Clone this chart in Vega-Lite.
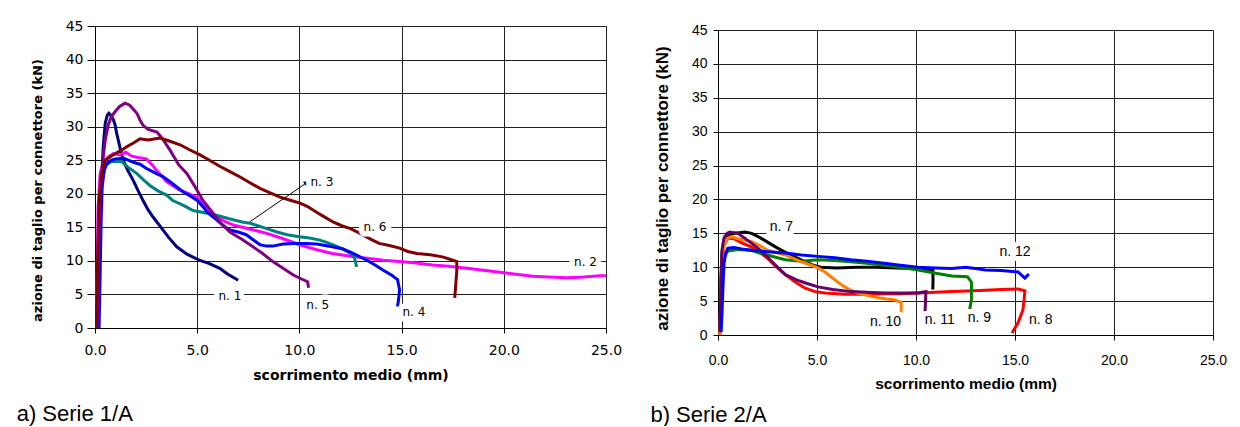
{
  "$schema": "https://vega.github.io/schema/vega-lite/v6.json",
  "padding": {"left": 16, "top": 19, "right": 5, "bottom": 0},
  "spacing": 28,
  "datasets": {
    "L": [
      {"s":"n. 1","k":1,"x":0.15,"y":0},{"s":"n. 1","k":2,"x":0.2,"y":7},{"s":"n. 1","k":3,"x":0.25,"y":15},{"s":"n. 1","k":4,"x":0.3,"y":20},{"s":"n. 1","k":5,"x":0.4,"y":27},{"s":"n. 1","k":6,"x":0.5,"y":30.5},{"s":"n. 1","k":7,"x":0.6,"y":31.7},{"s":"n. 1","k":8,"x":0.68,"y":32},{"s":"n. 1","k":9,"x":0.8,"y":31.6},{"s":"n. 1","k":10,"x":0.9,"y":31},{"s":"n. 1","k":11,"x":0.98,"y":30.3},{"s":"n. 1","k":12,"x":1.06,"y":29},{"s":"n. 1","k":13,"x":1.14,"y":28},{"s":"n. 1","k":14,"x":1.25,"y":26.5},{"s":"n. 1","k":15,"x":1.38,"y":25},{"s":"n. 1","k":16,"x":1.6,"y":23.5},{"s":"n. 1","k":17,"x":1.87,"y":22},{"s":"n. 1","k":18,"x":2.1,"y":20.5},{"s":"n. 1","k":19,"x":2.35,"y":19},{"s":"n. 1","k":20,"x":2.6,"y":17.6},{"s":"n. 1","k":21,"x":2.85,"y":16.5},{"s":"n. 1","k":22,"x":3.2,"y":15.1},{"s":"n. 1","k":23,"x":3.6,"y":13.5},{"s":"n. 1","k":24,"x":4.0,"y":12.1},{"s":"n. 1","k":25,"x":4.5,"y":11},{"s":"n. 1","k":26,"x":5.1,"y":10.1},{"s":"n. 1","k":27,"x":5.6,"y":9.6},{"s":"n. 1","k":28,"x":6.1,"y":8.9},{"s":"n. 1","k":29,"x":6.5,"y":8},{"s":"n. 1","k":30,"x":6.9,"y":7.3},{"s":"n. 1","k":31,"x":7.0,"y":7.1},
      {"s":"n. 2","k":1,"x":0.05,"y":0},{"s":"n. 2","k":2,"x":0.1,"y":8},{"s":"n. 2","k":3,"x":0.15,"y":18},{"s":"n. 2","k":4,"x":0.25,"y":23},{"s":"n. 2","k":5,"x":0.4,"y":24.8},{"s":"n. 2","k":6,"x":0.7,"y":25.6},{"s":"n. 2","k":7,"x":0.9,"y":26},{"s":"n. 2","k":8,"x":1.2,"y":25.8},{"s":"n. 2","k":9,"x":1.5,"y":26.2},{"s":"n. 2","k":10,"x":1.8,"y":25.6},{"s":"n. 2","k":11,"x":2.1,"y":25.4},{"s":"n. 2","k":12,"x":2.5,"y":25.2},{"s":"n. 2","k":13,"x":2.8,"y":24.3},{"s":"n. 2","k":14,"x":3.0,"y":23.5},{"s":"n. 2","k":15,"x":3.5,"y":21.8},{"s":"n. 2","k":16,"x":4.1,"y":20.6},{"s":"n. 2","k":17,"x":4.6,"y":20},{"s":"n. 2","k":18,"x":5.0,"y":19.4},{"s":"n. 2","k":19,"x":5.3,"y":18.5},{"s":"n. 2","k":20,"x":5.6,"y":17.3},{"s":"n. 2","k":21,"x":5.95,"y":16.6},{"s":"n. 2","k":22,"x":6.4,"y":15.8},{"s":"n. 2","k":23,"x":6.8,"y":15.3},{"s":"n. 2","k":24,"x":7.5,"y":14.8},{"s":"n. 2","k":25,"x":8.4,"y":14.1},{"s":"n. 2","k":26,"x":9.2,"y":13.3},{"s":"n. 2","k":27,"x":10.0,"y":12.4},{"s":"n. 2","k":28,"x":10.8,"y":11.7},{"s":"n. 2","k":29,"x":11.6,"y":11.1},{"s":"n. 2","k":30,"x":12.5,"y":10.7},{"s":"n. 2","k":31,"x":13.3,"y":10.4},{"s":"n. 2","k":32,"x":14.1,"y":10.1},{"s":"n. 2","k":33,"x":14.9,"y":9.9},{"s":"n. 2","k":34,"x":15.7,"y":9.7},{"s":"n. 2","k":35,"x":16.5,"y":9.4},{"s":"n. 2","k":36,"x":17.3,"y":9.2},{"s":"n. 2","k":37,"x":18.2,"y":8.9},{"s":"n. 2","k":38,"x":19.0,"y":8.6},{"s":"n. 2","k":39,"x":19.8,"y":8.3},{"s":"n. 2","k":40,"x":20.6,"y":8.0},{"s":"n. 2","k":41,"x":21.4,"y":7.7},{"s":"n. 2","k":42,"x":22.2,"y":7.6},{"s":"n. 2","k":43,"x":23.1,"y":7.5},{"s":"n. 2","k":44,"x":23.9,"y":7.6},{"s":"n. 2","k":45,"x":24.7,"y":7.8},{"s":"n. 2","k":46,"x":25.0,"y":7.8},
      {"s":"n. 3","k":1,"x":0.15,"y":0},{"s":"n. 3","k":2,"x":0.2,"y":8},{"s":"n. 3","k":3,"x":0.25,"y":17},{"s":"n. 3","k":4,"x":0.35,"y":22},{"s":"n. 3","k":5,"x":0.5,"y":24.2},{"s":"n. 3","k":6,"x":0.8,"y":24.8},{"s":"n. 3","k":7,"x":1.3,"y":24.8},{"s":"n. 3","k":8,"x":1.6,"y":24},{"s":"n. 3","k":9,"x":2.05,"y":23},{"s":"n. 3","k":10,"x":2.4,"y":22},{"s":"n. 3","k":11,"x":2.7,"y":21.2},{"s":"n. 3","k":12,"x":3.1,"y":20.4},{"s":"n. 3","k":13,"x":3.5,"y":19.8},{"s":"n. 3","k":14,"x":3.8,"y":19},{"s":"n. 3","k":15,"x":4.3,"y":18.3},{"s":"n. 3","k":16,"x":4.8,"y":17.5},{"s":"n. 3","k":17,"x":5.3,"y":17.2},{"s":"n. 3","k":18,"x":5.8,"y":16.9},{"s":"n. 3","k":19,"x":6.3,"y":16.5},{"s":"n. 3","k":20,"x":6.8,"y":16.1},{"s":"n. 3","k":21,"x":7.2,"y":15.8},{"s":"n. 3","k":22,"x":7.6,"y":15.6},{"s":"n. 3","k":23,"x":8.0,"y":15.2},{"s":"n. 3","k":24,"x":8.4,"y":14.8},{"s":"n. 3","k":25,"x":8.9,"y":14.3},{"s":"n. 3","k":26,"x":9.4,"y":13.9},{"s":"n. 3","k":27,"x":10.0,"y":13.6},{"s":"n. 3","k":28,"x":10.5,"y":13.4},{"s":"n. 3","k":29,"x":11.0,"y":13.1},{"s":"n. 3","k":30,"x":11.3,"y":12.8},{"s":"n. 3","k":31,"x":11.65,"y":12.4},{"s":"n. 3","k":32,"x":12.1,"y":11.8},{"s":"n. 3","k":33,"x":12.5,"y":11.1},{"s":"n. 3","k":34,"x":12.7,"y":10.4},{"s":"n. 3","k":35,"x":12.8,"y":9.1},
      {"s":"n. 4","k":1,"x":0.2,"y":0},{"s":"n. 4","k":2,"x":0.25,"y":8},{"s":"n. 4","k":3,"x":0.3,"y":16},{"s":"n. 4","k":4,"x":0.35,"y":21},{"s":"n. 4","k":5,"x":0.45,"y":23.5},{"s":"n. 4","k":6,"x":0.6,"y":24.6},{"s":"n. 4","k":7,"x":0.8,"y":25},{"s":"n. 4","k":8,"x":1.0,"y":25.2},{"s":"n. 4","k":9,"x":1.4,"y":25.3},{"s":"n. 4","k":10,"x":1.87,"y":24.7},{"s":"n. 4","k":11,"x":2.2,"y":24.4},{"s":"n. 4","k":12,"x":2.5,"y":23.8},{"s":"n. 4","k":13,"x":3.0,"y":23},{"s":"n. 4","k":14,"x":3.3,"y":22.6},{"s":"n. 4","k":15,"x":3.67,"y":21.8},{"s":"n. 4","k":16,"x":4.3,"y":20.3},{"s":"n. 4","k":17,"x":4.7,"y":19.6},{"s":"n. 4","k":18,"x":5.0,"y":19},{"s":"n. 4","k":19,"x":5.3,"y":18},{"s":"n. 4","k":20,"x":5.5,"y":17.2},{"s":"n. 4","k":21,"x":5.95,"y":16.1},{"s":"n. 4","k":22,"x":6.3,"y":15.2},{"s":"n. 4","k":23,"x":6.6,"y":14.6},{"s":"n. 4","k":24,"x":7.0,"y":14.3},{"s":"n. 4","k":25,"x":7.4,"y":13.9},{"s":"n. 4","k":26,"x":7.8,"y":13},{"s":"n. 4","k":27,"x":8.07,"y":12.4},{"s":"n. 4","k":28,"x":8.4,"y":12.2},{"s":"n. 4","k":29,"x":8.7,"y":12.2},{"s":"n. 4","k":30,"x":9.2,"y":12.5},{"s":"n. 4","k":31,"x":9.7,"y":12.6},{"s":"n. 4","k":32,"x":10.3,"y":12.6},{"s":"n. 4","k":33,"x":10.85,"y":12.5},{"s":"n. 4","k":34,"x":11.6,"y":12.1},{"s":"n. 4","k":35,"x":12.1,"y":11.8},{"s":"n. 4","k":36,"x":12.5,"y":11.3},{"s":"n. 4","k":37,"x":13.3,"y":10.1},{"s":"n. 4","k":38,"x":13.7,"y":9.4},{"s":"n. 4","k":39,"x":14.1,"y":8.6},{"s":"n. 4","k":40,"x":14.5,"y":7.9},{"s":"n. 4","k":41,"x":14.8,"y":7.2},{"s":"n. 4","k":42,"x":14.9,"y":5.7},{"s":"n. 4","k":43,"x":14.85,"y":4.2},{"s":"n. 4","k":44,"x":14.8,"y":3.2},
      {"s":"n. 5","k":1,"x":0.1,"y":0},{"s":"n. 5","k":2,"x":0.15,"y":8},{"s":"n. 5","k":3,"x":0.2,"y":15},{"s":"n. 5","k":4,"x":0.27,"y":21},{"s":"n. 5","k":5,"x":0.4,"y":25.5},{"s":"n. 5","k":6,"x":0.5,"y":28},{"s":"n. 5","k":7,"x":0.65,"y":30.3},{"s":"n. 5","k":8,"x":0.8,"y":31.5},{"s":"n. 5","k":9,"x":1.0,"y":32.3},{"s":"n. 5","k":10,"x":1.2,"y":33},{"s":"n. 5","k":11,"x":1.47,"y":33.5},{"s":"n. 5","k":12,"x":1.7,"y":33.2},{"s":"n. 5","k":13,"x":2.05,"y":32},{"s":"n. 5","k":14,"x":2.2,"y":31},{"s":"n. 5","k":15,"x":2.35,"y":30.2},{"s":"n. 5","k":16,"x":2.6,"y":29.6},{"s":"n. 5","k":17,"x":3.03,"y":29.2},{"s":"n. 5","k":18,"x":3.3,"y":28.2},{"s":"n. 5","k":19,"x":3.67,"y":26.5},{"s":"n. 5","k":20,"x":4.1,"y":24.3},{"s":"n. 5","k":21,"x":4.5,"y":23},{"s":"n. 5","k":22,"x":4.9,"y":21},{"s":"n. 5","k":23,"x":5.28,"y":19},{"s":"n. 5","k":24,"x":5.77,"y":17.1},{"s":"n. 5","k":25,"x":6.2,"y":15.5},{"s":"n. 5","k":26,"x":6.6,"y":14.3},{"s":"n. 5","k":27,"x":7.2,"y":13.2},{"s":"n. 5","k":28,"x":7.73,"y":12.1},{"s":"n. 5","k":29,"x":8.2,"y":11.1},{"s":"n. 5","k":30,"x":8.7,"y":9.9},{"s":"n. 5","k":31,"x":9.2,"y":8.9},{"s":"n. 5","k":32,"x":9.7,"y":7.9},{"s":"n. 5","k":33,"x":10.1,"y":7.3},{"s":"n. 5","k":34,"x":10.4,"y":6.9},{"s":"n. 5","k":35,"x":10.45,"y":6.0},
      {"s":"n. 6","k":1,"x":0.05,"y":0},{"s":"n. 6","k":2,"x":0.1,"y":6},{"s":"n. 6","k":3,"x":0.15,"y":13},{"s":"n. 6","k":4,"x":0.2,"y":19},{"s":"n. 6","k":5,"x":0.3,"y":22.5},{"s":"n. 6","k":6,"x":0.4,"y":24},{"s":"n. 6","k":7,"x":0.5,"y":25},{"s":"n. 6","k":8,"x":0.75,"y":25.5},{"s":"n. 6","k":9,"x":1.0,"y":26},{"s":"n. 6","k":10,"x":1.3,"y":26.5},{"s":"n. 6","k":11,"x":1.55,"y":27},{"s":"n. 6","k":12,"x":1.9,"y":27.6},{"s":"n. 6","k":13,"x":2.2,"y":28.2},{"s":"n. 6","k":14,"x":2.6,"y":28},{"s":"n. 6","k":15,"x":3.18,"y":28.3},{"s":"n. 6","k":16,"x":3.6,"y":27.9},{"s":"n. 6","k":17,"x":4.16,"y":27.3},{"s":"n. 6","k":18,"x":4.6,"y":26.6},{"s":"n. 6","k":19,"x":5.14,"y":25.8},{"s":"n. 6","k":20,"x":5.6,"y":25},{"s":"n. 6","k":21,"x":6.1,"y":24.1},{"s":"n. 6","k":22,"x":6.6,"y":23.3},{"s":"n. 6","k":23,"x":7.1,"y":22.5},{"s":"n. 6","k":24,"x":7.6,"y":21.6},{"s":"n. 6","k":25,"x":8.07,"y":20.8},{"s":"n. 6","k":26,"x":8.6,"y":20.1},{"s":"n. 6","k":27,"x":9.05,"y":19.5},{"s":"n. 6","k":28,"x":9.6,"y":19},{"s":"n. 6","k":29,"x":10.03,"y":18.6},{"s":"n. 6","k":30,"x":10.4,"y":18.1},{"s":"n. 6","k":31,"x":10.86,"y":17.2},{"s":"n. 6","k":32,"x":11.2,"y":16.6},{"s":"n. 6","k":33,"x":11.64,"y":15.8},{"s":"n. 6","k":34,"x":12.1,"y":15.2},{"s":"n. 6","k":35,"x":12.5,"y":14.8},{"s":"n. 6","k":36,"x":12.97,"y":14.1},{"s":"n. 6","k":37,"x":13.5,"y":13.2},{"s":"n. 6","k":38,"x":13.9,"y":12.6},{"s":"n. 6","k":39,"x":14.4,"y":12.3},{"s":"n. 6","k":40,"x":14.9,"y":11.9},{"s":"n. 6","k":41,"x":15.3,"y":11.4},{"s":"n. 6","k":42,"x":15.75,"y":11.1},{"s":"n. 6","k":43,"x":16.4,"y":10.9},{"s":"n. 6","k":44,"x":17.0,"y":10.6},{"s":"n. 6","k":45,"x":17.4,"y":10.2},{"s":"n. 6","k":46,"x":17.7,"y":9.9},{"s":"n. 6","k":47,"x":17.7,"y":8.5},{"s":"n. 6","k":48,"x":17.65,"y":6.5},{"s":"n. 6","k":49,"x":17.6,"y":4.5}
    ],
    "R": [
      {"s":"n. 7","k":1,"x":0.1,"y":0.5},{"s":"n. 7","k":2,"x":0.15,"y":8},{"s":"n. 7","k":3,"x":0.2,"y":12},{"s":"n. 7","k":4,"x":0.3,"y":13.8},{"s":"n. 7","k":5,"x":0.5,"y":14.6},{"s":"n. 7","k":6,"x":0.8,"y":15},{"s":"n. 7","k":7,"x":1.1,"y":15.1},{"s":"n. 7","k":8,"x":1.36,"y":15.2},{"s":"n. 7","k":9,"x":1.7,"y":15},{"s":"n. 7","k":10,"x":2.1,"y":14.4},{"s":"n. 7","k":11,"x":2.5,"y":13.7},{"s":"n. 7","k":12,"x":2.9,"y":13},{"s":"n. 7","k":13,"x":3.4,"y":12.2},{"s":"n. 7","k":14,"x":3.9,"y":11.5},{"s":"n. 7","k":15,"x":4.4,"y":10.8},{"s":"n. 7","k":16,"x":4.8,"y":10.3},{"s":"n. 7","k":17,"x":5.2,"y":10.0},{"s":"n. 7","k":18,"x":6.0,"y":9.9},{"s":"n. 7","k":19,"x":7.0,"y":10.0},{"s":"n. 7","k":20,"x":8.0,"y":10.0},{"s":"n. 7","k":21,"x":9.0,"y":9.9},{"s":"n. 7","k":22,"x":10.0,"y":9.8},{"s":"n. 7","k":23,"x":10.85,"y":9.6},{"s":"n. 7","k":24,"x":10.86,"y":8.0},{"s":"n. 7","k":25,"x":10.85,"y":6.7},
      {"s":"n. 8","k":1,"x":0.1,"y":0},{"s":"n. 8","k":2,"x":0.15,"y":7},{"s":"n. 8","k":3,"x":0.2,"y":11},{"s":"n. 8","k":4,"x":0.3,"y":13.2},{"s":"n. 8","k":5,"x":0.5,"y":14.3},{"s":"n. 8","k":6,"x":0.8,"y":14.2},{"s":"n. 8","k":7,"x":1.2,"y":13.6},{"s":"n. 8","k":8,"x":1.67,"y":13},{"s":"n. 8","k":9,"x":2.1,"y":12.2},{"s":"n. 8","k":10,"x":2.5,"y":11.3},{"s":"n. 8","k":11,"x":2.9,"y":10.2},{"s":"n. 8","k":12,"x":3.4,"y":8.9},{"s":"n. 8","k":13,"x":3.9,"y":7.8},{"s":"n. 8","k":14,"x":4.4,"y":6.9},{"s":"n. 8","k":15,"x":4.9,"y":6.4},{"s":"n. 8","k":16,"x":5.4,"y":6.2},{"s":"n. 8","k":17,"x":6.4,"y":6.0},{"s":"n. 8","k":18,"x":7.4,"y":6.0},{"s":"n. 8","k":19,"x":8.4,"y":6.1},{"s":"n. 8","k":20,"x":9.2,"y":6.1},{"s":"n. 8","k":21,"x":10.1,"y":6.2},{"s":"n. 8","k":22,"x":11.0,"y":6.3},{"s":"n. 8","k":23,"x":11.8,"y":6.4},{"s":"n. 8","k":24,"x":12.6,"y":6.5},{"s":"n. 8","k":25,"x":13.5,"y":6.6},{"s":"n. 8","k":26,"x":14.3,"y":6.7},{"s":"n. 8","k":27,"x":15.15,"y":6.8},{"s":"n. 8","k":28,"x":15.5,"y":6.5},{"s":"n. 8","k":29,"x":15.45,"y":5.0},{"s":"n. 8","k":30,"x":15.4,"y":3.7},{"s":"n. 8","k":31,"x":15.15,"y":1.8},{"s":"n. 8","k":32,"x":14.85,"y":0.3},
      {"s":"n. 9","k":1,"x":0.15,"y":0.5},{"s":"n. 9","k":2,"x":0.2,"y":8},{"s":"n. 9","k":3,"x":0.3,"y":11.5},{"s":"n. 9","k":4,"x":0.5,"y":12.4},{"s":"n. 9","k":5,"x":1.0,"y":12.6},{"s":"n. 9","k":6,"x":1.67,"y":12.5},{"s":"n. 9","k":7,"x":2.1,"y":12.1},{"s":"n. 9","k":8,"x":2.5,"y":11.8},{"s":"n. 9","k":9,"x":3.0,"y":11.4},{"s":"n. 9","k":10,"x":3.4,"y":11.1},{"s":"n. 9","k":11,"x":4.2,"y":10.9},{"s":"n. 9","k":12,"x":5.05,"y":11.1},{"s":"n. 9","k":13,"x":5.9,"y":11.0},{"s":"n. 9","k":14,"x":6.7,"y":10.8},{"s":"n. 9","k":15,"x":7.5,"y":10.6},{"s":"n. 9","k":16,"x":8.4,"y":10.3},{"s":"n. 9","k":17,"x":9.2,"y":10.0},{"s":"n. 9","k":18,"x":10.1,"y":9.6},{"s":"n. 9","k":19,"x":11.0,"y":9.1},{"s":"n. 9","k":20,"x":11.8,"y":8.7},{"s":"n. 9","k":21,"x":12.6,"y":8.6},{"s":"n. 9","k":22,"x":12.8,"y":7.8},{"s":"n. 9","k":23,"x":12.8,"y":5.2},{"s":"n. 9","k":24,"x":12.7,"y":3.6},
      {"s":"n. 10","k":1,"x":0.1,"y":0},{"s":"n. 10","k":2,"x":0.15,"y":7},{"s":"n. 10","k":3,"x":0.2,"y":11},{"s":"n. 10","k":4,"x":0.3,"y":13.2},{"s":"n. 10","k":5,"x":0.45,"y":14.2},{"s":"n. 10","k":6,"x":0.66,"y":14.5},{"s":"n. 10","k":7,"x":1.0,"y":14.2},{"s":"n. 10","k":8,"x":1.67,"y":13.8},{"s":"n. 10","k":9,"x":2.1,"y":13.2},{"s":"n. 10","k":10,"x":2.5,"y":12.5},{"s":"n. 10","k":11,"x":3.0,"y":12.1},{"s":"n. 10","k":12,"x":3.4,"y":11.8},{"s":"n. 10","k":13,"x":3.8,"y":11.3},{"s":"n. 10","k":14,"x":4.2,"y":10.8},{"s":"n. 10","k":15,"x":4.6,"y":10.4},{"s":"n. 10","k":16,"x":5.05,"y":9.9},{"s":"n. 10","k":17,"x":5.4,"y":9.3},{"s":"n. 10","k":18,"x":5.7,"y":8.6},{"s":"n. 10","k":19,"x":6.05,"y":7.8},{"s":"n. 10","k":20,"x":6.4,"y":7.1},{"s":"n. 10","k":21,"x":6.7,"y":6.6},{"s":"n. 10","k":22,"x":7.07,"y":6.2},{"s":"n. 10","k":23,"x":7.6,"y":5.8},{"s":"n. 10","k":24,"x":8.1,"y":5.5},{"s":"n. 10","k":25,"x":8.5,"y":5.3},{"s":"n. 10","k":26,"x":8.9,"y":5.2},{"s":"n. 10","k":27,"x":9.25,"y":4.8},{"s":"n. 10","k":28,"x":9.25,"y":3.2},
      {"s":"n. 11","k":1,"x":0.1,"y":0.5},{"s":"n. 11","k":2,"x":0.15,"y":8},{"s":"n. 11","k":3,"x":0.2,"y":12.5},{"s":"n. 11","k":4,"x":0.3,"y":14.3},{"s":"n. 11","k":5,"x":0.45,"y":15},{"s":"n. 11","k":6,"x":0.6,"y":15.2},{"s":"n. 11","k":7,"x":1.0,"y":15},{"s":"n. 11","k":8,"x":1.3,"y":14.4},{"s":"n. 11","k":9,"x":1.67,"y":13.6},{"s":"n. 11","k":10,"x":2.1,"y":12.6},{"s":"n. 11","k":11,"x":2.5,"y":11.5},{"s":"n. 11","k":12,"x":2.9,"y":10.3},{"s":"n. 11","k":13,"x":3.4,"y":8.9},{"s":"n. 11","k":14,"x":4.0,"y":8.1},{"s":"n. 11","k":15,"x":4.5,"y":7.6},{"s":"n. 11","k":16,"x":5.05,"y":7.1},{"s":"n. 11","k":17,"x":5.8,"y":6.7},{"s":"n. 11","k":18,"x":6.7,"y":6.4},{"s":"n. 11","k":19,"x":7.5,"y":6.3},{"s":"n. 11","k":20,"x":8.4,"y":6.2},{"s":"n. 11","k":21,"x":9.2,"y":6.2},{"s":"n. 11","k":22,"x":10.1,"y":6.2},{"s":"n. 11","k":23,"x":10.5,"y":6.4},{"s":"n. 11","k":24,"x":10.48,"y":4.8},{"s":"n. 11","k":25,"x":10.45,"y":3.2},
      {"s":"n. 12","k":1,"x":0.15,"y":0.4},{"s":"n. 12","k":2,"x":0.2,"y":3},{"s":"n. 12","k":3,"x":0.25,"y":7},{"s":"n. 12","k":4,"x":0.3,"y":10.5},{"s":"n. 12","k":5,"x":0.4,"y":12.2},{"s":"n. 12","k":6,"x":0.5,"y":12.8},{"s":"n. 12","k":7,"x":0.8,"y":12.9},{"s":"n. 12","k":8,"x":1.2,"y":12.7},{"s":"n. 12","k":9,"x":1.67,"y":12.5},{"s":"n. 12","k":10,"x":2.5,"y":12.3},{"s":"n. 12","k":11,"x":3.4,"y":12.1},{"s":"n. 12","k":12,"x":4.2,"y":11.8},{"s":"n. 12","k":13,"x":5.05,"y":11.6},{"s":"n. 12","k":14,"x":5.9,"y":11.4},{"s":"n. 12","k":15,"x":6.7,"y":11.1},{"s":"n. 12","k":16,"x":7.5,"y":10.9},{"s":"n. 12","k":17,"x":8.4,"y":10.6},{"s":"n. 12","k":18,"x":9.2,"y":10.3},{"s":"n. 12","k":19,"x":10.1,"y":10.0},{"s":"n. 12","k":20,"x":11.0,"y":9.9},{"s":"n. 12","k":21,"x":11.8,"y":9.8},{"s":"n. 12","k":22,"x":12.5,"y":10.0},{"s":"n. 12","k":23,"x":13.0,"y":9.8},{"s":"n. 12","k":24,"x":13.5,"y":9.6},{"s":"n. 12","k":25,"x":14.3,"y":9.5},{"s":"n. 12","k":26,"x":15.15,"y":9.3},{"s":"n. 12","k":27,"x":15.5,"y":8.4},{"s":"n. 12","k":28,"x":15.7,"y":9.0}
    ],
    "LL": [
      {"t":"n. 1","x":6.6,"y":4.8},{"t":"n. 5","x":10.9,"y":3.4},{"t":"n. 4","x":15.6,"y":2.4},{"t":"n. 6","x":13.7,"y":15.0},{"t":"n. 2","x":24.0,"y":9.85},{"t":"n. 3","x":11.1,"y":21.8}
    ],
    "RL": [
      {"t":"n. 7","x":3.2,"y":15.9},{"t":"n. 12","x":15.0,"y":12.2},{"t":"n. 10","x":8.46,"y":1.9},{"t":"n. 11","x":11.2,"y":2.2},{"t":"n. 9","x":13.2,"y":2.5},{"t":"n. 8","x":16.3,"y":2.2}
    ],
    "AR": [
      {"k":1,"x":7.58,"y":15.84},{"k":2,"x":10.36,"y":21.65}
    ]
  },
  "hconcat": [
    {
      "width": 511,
      "height": 302,
      "title": {"text": "a) Serie 1/A", "orient": "bottom", "anchor": "start", "frame": "bounds", "offset": 22, "dx": -14.5},
      "encoding": {
        "x": {"field": "x", "type": "quantitative", "scale": {"domain": [0, 25], "nice": false},
          "axis": {"values": [0, 5, 10, 15, 20, 25], "tickCount": 30, "format": ".1f", "title": "scorrimento medio (mm)", "tickSize": 5, "labelPadding": 10, "labelFont": "DejaVu Sans", "labelFontSize": 14, "titleFont": "DejaVu Sans", "titleFontSize": 14, "titlePadding": 11}},
        "y": {"field": "y", "type": "quantitative", "scale": {"domain": [0, 45], "nice": false},
          "axis": {"values": [0, 5, 10, 15, 20, 25, 30, 35, 40, 45], "tickCount": 30, "format": "d", "title": "azione di taglio per connettore (kN)", "tickSize": 8, "labelPadding": 4, "labelFont": "DejaVu Sans", "labelFontSize": 14, "titleFont": "DejaVu Sans", "titleFontSize": 13, "titlePadding": 21, "titleY": 164}}
      },
      "layer": [
        {
          "data": {"name": "L"},
          "mark": {"type": "line", "strokeWidth": 3, "clip": true},
          "encoding": {
            "color": {"field": "s", "type": "nominal", "scale": {"domain": ["n. 1", "n. 2", "n. 3", "n. 4", "n. 5", "n. 6", "n. 7", "n. 8", "n. 9", "n. 10", "n. 11", "n. 12"], "range": ["#000080", "#FF00FF", "#008080", "#0000FF", "#800080", "#800000", "#000000", "#FF0000", "#008000", "#FF7F00", "#660066", "#0000FF"]}, "legend": null},
            "order": {"field": "k", "type": "quantitative"}
          }
        },
        {
          "data": {"name": "AR"},
          "mark": {"type": "line", "color": "#000", "strokeWidth": 1},
          "encoding": {
            "order": {"field": "k", "type": "quantitative"}
          }
        },
        {
          "data": {"name": "AR"},
          "transform": [{"filter": "datum.k == 2"}],
          "mark": {"type": "point", "shape": "triangle-right", "filled": true, "color": "#000", "size": 35, "angle": 325, "opacity": 1},
          "encoding": {}
        },
        {
          "data": {"name": "LL"},
          "mark": {"type": "text", "font": "DejaVu Sans", "fontSize": 12, "stroke": "#fff", "strokeWidth": 11, "strokeJoin": "round", "fill": "#fff", "align": "center", "baseline": "middle"},
          "encoding": {"text": {"field": "t"}}
        },
        {
          "data": {"name": "LL"},
          "mark": {"type": "text", "font": "DejaVu Sans", "fontSize": 12, "fill": "#000", "align": "center", "baseline": "middle"},
          "encoding": {"text": {"field": "t"}}
        }
      ]
    },
    {
      "bounds": "flush",
      "spacing": 3,
      "vconcat": [
        {
          "width": 495,
          "height": 1,
          "data": {"values": []},
          "mark": {"type": "point", "opacity": 0}
        },
        {
          "width": 495,
          "height": 305,
          "title": {"text": "b) Serie 2/A", "orient": "bottom", "anchor": "start", "frame": "bounds", "offset": 13, "dx": -3},
          "encoding": {
            "x": {"field": "x", "type": "quantitative", "scale": {"domain": [0, 25], "nice": false},
              "axis": {"values": [0, 5, 10, 15, 20, 25], "tickCount": 30, "format": ".1f", "title": "scorrimento medio (mm)", "tickSize": 5, "labelPadding": 13, "labelFont": "Liberation Sans", "labelFontSize": 14, "titleFont": "Liberation Sans", "titleFontSize": 15.5, "titlePadding": 9}},
            "y": {"field": "y", "type": "quantitative", "scale": {"domain": [0, 45], "nice": false},
              "axis": {"values": [0, 5, 10, 15, 20, 25, 30, 35, 40, 45], "tickCount": 30, "format": "d", "title": "azione di taglio per connettore (kN)", "tickSize": 5, "labelPadding": 6, "labelFont": "Liberation Sans", "labelFontSize": 14, "titleFont": "Liberation Sans", "titleFontSize": 17, "titlePadding": 20, "titleY": 158}}
          },
          "layer": [
            {
              "data": {"name": "R"},
              "mark": {"type": "line", "strokeWidth": 3, "clip": true},
              "encoding": {
                "color": {"field": "s", "type": "nominal", "scale": {"domain": ["n. 1", "n. 2", "n. 3", "n. 4", "n. 5", "n. 6", "n. 7", "n. 8", "n. 9", "n. 10", "n. 11", "n. 12"], "range": ["#000080", "#FF00FF", "#008080", "#0000FF", "#800080", "#800000", "#000000", "#FF0000", "#008000", "#FF7F00", "#660066", "#0000FF"]}, "legend": null},
                "order": {"field": "k", "type": "quantitative"}
              }
            },
            {
              "data": {"name": "RL"},
              "mark": {"type": "text", "font": "Liberation Sans", "fontSize": 14, "stroke": "#fff", "strokeWidth": 10, "strokeJoin": "round", "fill": "#fff", "align": "center", "baseline": "middle"},
              "encoding": {"text": {"field": "t"}}
            },
            {
              "data": {"name": "RL"},
              "mark": {"type": "text", "font": "Liberation Sans", "fontSize": 14, "fill": "#000", "align": "center", "baseline": "middle"},
              "encoding": {"text": {"field": "t"}}
            }
          ]
        }
      ]
    }
  ],
  "config": {
    "view": {"stroke": null},
    "axis": {"grid": true, "gridColor": "#222", "gridWidth": 1, "gridOpacity": 1, "domainColor": "#000", "domainWidth": 1, "tickColor": "#000", "tickWidth": 1, "labelColor": "#000", "titleColor": "#000", "labelFlush": false, "labelOverlap": false, "titleFontWeight": "bold"},
    "title": {"color": "#000", "fontWeight": "normal", "font": "Liberation Sans", "fontSize": 22}
  }
}
